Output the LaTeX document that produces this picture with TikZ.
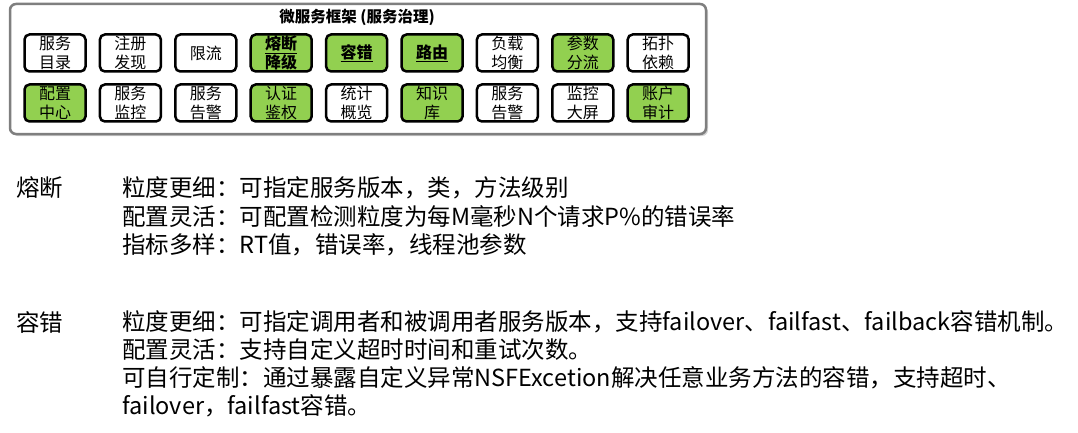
\documentclass[tikz,border=0pt]{standalone}
\usepackage{fontspec}
\setmainfont{Noto Sans CJK SC}
\usetikzlibrary{shadows}
\definecolor{hotgreen}{HTML}{92D050}
\definecolor{framegray}{HTML}{7F7F7F}
\tikzset{svc/.style = {draw, line width = 2.5pt, rounded corners = 5pt, minimum width = 61pt, minimum height = 37pt, inner sep = 0, align = center, font = \fontsize{16}{19}\selectfont}}
\tikzset{hot/.style = {svc, fill = hotgreen}}
\tikzset{txt/.style = {anchor = west, inner sep = 0, font = \fontsize{23.5}{28}\selectfont}}
\begin{document}
\begin{tikzpicture}[x=1pt, y=-1pt]
            \useasboundingbox (0,0) rectangle (1078,433);
            \draw [framegray, line width=2.5, rounded corners=6, fill=white, drop shadow={opacity=0.35, shadow xshift=2pt, shadow yshift=-2pt}] (10,4) rectangle (706,134);
            \node [font=\bfseries\fontsize{15.5}{18}\selectfont] (title) at (357,17) {微服务框架 (服务治理)};
            % first row
            \node [svc] (mulu) at (55,53) {服务\\目录};
            \node [svc] (zhuce) at (130.4,53) {注册\\发现};
            \node [svc] (xianliu) at (205.8,53) {限流};
            \node [hot, font=\bfseries\fontsize{16}{19}\selectfont] (rongduan) at (281.2,53) {\underline{熔断}\\降级};
            \node [hot, font=\bfseries\fontsize{16}{19}\selectfont] (rongcuo) at (356.6,53) {\underline{容错}};
            \node [hot, font=\bfseries\fontsize{16}{19}\selectfont] (luyou) at (432,53) {\underline{路由}};
            \node [svc] (fuzai) at (507.4,53) {负载\\均衡};
            \node [hot] (canshu) at (582.8,53) {参数\\分流};
            \node [svc] (tuopu) at (658.2,53) {拓扑\\依赖};
            % second row
            \node [hot] (peizhi) at (55,103) {配置\\中心};
            \node [svc] (jiankong) at (130.4,103) {服务\\监控};
            \node [svc] (gaojing) at (205.8,103) {服务\\告警};
            \node [hot] (renzheng) at (281.2,103) {认证\\鉴权};
            \node [svc] (tongji) at (356.6,103) {统计\\概览};
            \node [hot] (zhishi) at (432,103) {知识\\库};
            \node [svc] (gaojingb) at (507.4,103) {服务\\告警};
            \node [svc] (daping) at (582.8,103) {监控\\大屏};
            \node [hot] (zhanghu) at (658.2,103) {账户\\审计};
            % notes
            \node [txt] (rd) at (16,188) {熔断};
            \node [txt] (rd1) at (122,188) {粒度更细：可指定服务版本，类，方法级别};
            \node [txt] (rd2) at (122,216.5) {配置灵活：可配置检测粒度为每M毫秒N个请求P\%的错误率};
            \node [txt] (rd3) at (122,245) {指标多样：RT值，错误率，线程池参数};
            \node [txt] (rc) at (16,322) {容错};
            \node [txt] (rc1) at (122,322) {粒度更细：可指定调用者和被调用者服务版本，支持failover、failfast、failback容错机制。};
            \node [txt] (rc2) at (122,350) {配置灵活：支持自定义超时时间和重试次数。};
            \node [txt] (rc3) at (122,378) {可自行定制：通过暴露自定义异常NSFExcetion解决任意业务方法的容错，支持超时、};
            \node [txt] (rc4) at (122,406) {failover，failfast容错。};
        \end{tikzpicture}
\end{document}
